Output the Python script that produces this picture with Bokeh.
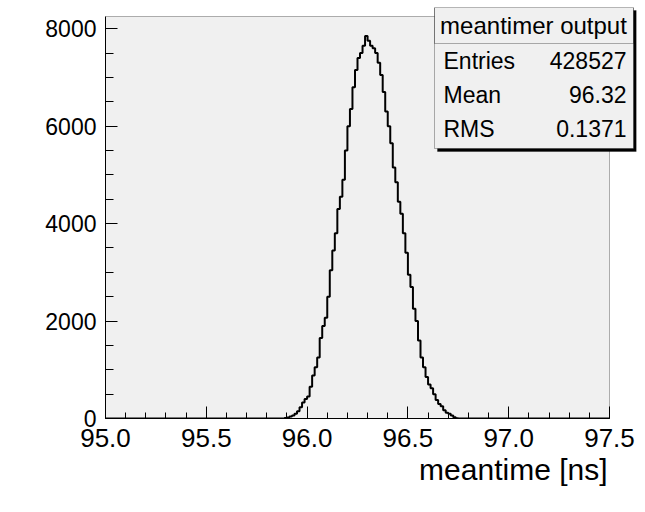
from bokeh.plotting import figure
from bokeh.models import (Range1d, SingleIntervalTicker, Label, BoxAnnotation,
                          NumeralTickFormatter, Title)
from bokeh.embed import file_html
from bokeh.resources import INLINE

# ---- data ----
x_min, x_max = 95.0, 97.5
y_min, y_max = 0, 8250
bin_lo = 95.8875
bin_width = 0.0125
counts = [10, 20, 40, 60, 100, 150, 230, 330, 400, 450,
          650, 880, 1050, 1250, 1650, 1900, 2070, 2500, 3040, 3450,
          3800, 4300, 4550, 4900, 5500, 6000, 6350, 6800, 7150, 7400,
          7500, 7650, 7850, 7750, 7650, 7600, 7500, 7300, 7050, 6700,
          6300, 6000, 5650, 5150, 4850, 4450, 4200, 3800, 3400, 2950,
          2700, 2250, 2000, 1600, 1250, 1050, 850, 700, 620, 500,
          380, 300, 250, 170, 120, 100, 60, 25, 5]
stats_title = "meantimer output"
stats_names = ["Entries", "Mean", "RMS"]
stats_values = ["428527", "96.32", "0.1371"]
x_label = "meantime [ns]"

FONT = "Liberation Sans"
GREY = "#f0f0f0"

# pixel geometry of the histogram frame (page pixels)
FL, FR, FT, FB = 105, 609, 16, 418
px_per_x = (FR - FL) / (x_max - x_min)
px_per_y = (FB - FT) / (y_max - y_min)
def dx(px):
    return x_min + (px - FL) / px_per_x
def dy(py):
    return y_min + (FB - py) / px_per_y

# the plotting frame is enlarged so the stats box (outside the histogram frame) can be drawn
PR, PT = 636, 7
p = figure(width=645, height=512, output_backend="svg", toolbar_location=None,
           x_range=Range1d(x_min, dx(PR)), y_range=Range1d(y_min, dy(PT)),
           min_border_left=FL, min_border_right=645 - PR, min_border_top=PT,
           min_border_bottom=512 - FB)
p.background_fill_color = "white"
p.border_fill_color = "white"
p.outline_line_color = None
p.grid.visible = False

# histogram frame (grey area + black outline)
p.add_layout(BoxAnnotation(left=x_min, right=x_max, bottom=y_min, top=y_max,
                           fill_color=GREY, fill_alpha=1, line_color="black",
                           line_width=1, level="underlay"))

for ax, interval, nminor, tin, tmin, bnds in ((p.xaxis[0], 0.5, 5, 12, 6, (x_min, x_max)),
                                              (p.yaxis[0], 2000, 4, 12, 8, (y_min, y_max))):
    ax.ticker = SingleIntervalTicker(interval=interval, num_minor_ticks=nminor)
    ax.bounds = bnds
    ax.major_tick_in = tin
    ax.major_tick_out = 0
    ax.minor_tick_in = tmin
    ax.minor_tick_out = 0
    ax.major_tick_line_color = "black"
    ax.minor_tick_line_color = "black"
    ax.axis_line_color = "black"
    ax.major_label_text_font = FONT
    ax.major_label_text_color = "black"
p.xaxis[0].formatter = NumeralTickFormatter(format="0.0")
p.yaxis[0].formatter = NumeralTickFormatter(format="0")
p.xaxis[0].major_label_text_font_size = "26px"
p.yaxis[0].major_label_text_font_size = "23px"
p.xaxis[0].major_label_standoff = 10
p.yaxis[0].major_label_standoff = 9

# histogram outline
edges = [bin_lo + i * bin_width for i in range(len(counts) + 1)]
xs = [x_min, edges[0]]
ys = [0, 0]
for i, c in enumerate(counts):
    xs += [edges[i], edges[i + 1]]
    ys += [c, c]
xs += [edges[-1], x_max]
ys += [0, 0]
p.line(xs, ys, line_color="black", line_width=2)

# stats box
p.add_layout(BoxAnnotation(left=dx(437), right=dx(636), top=dy(10), bottom=dy(151),
                           fill_color="black", fill_alpha=1, line_color="black"))
p.add_layout(BoxAnnotation(left=dx(434), right=dx(633), top=dy(7), bottom=dy(148),
                           fill_color=GREY, fill_alpha=1, line_color="black", line_width=1))
p.add_layout(BoxAnnotation(left=dx(434), right=dx(633), top=dy(7), bottom=dy(43),
                           fill_alpha=0, line_color="black", line_width=1))

SF = "23px"
p.add_layout(Label(x=dx(533), y=dy(25), text=stats_title, text_font=FONT, text_font_size="24px",
                   text_align="center", text_baseline="middle", text_color="black"))
for i, (nm, val) in enumerate(zip(stats_names, stats_values)):
    yy = dy(60 + 34 * i)
    p.add_layout(Label(x=dx(443), y=yy, text=nm, text_font=FONT, text_font_size=SF,
                       text_align="left", text_baseline="middle", text_color="black"))
    p.add_layout(Label(x=dx(626), y=yy, text=val, text_font=FONT, text_font_size=SF,
                       text_align="right", text_baseline="middle", text_color="black"))

# x axis title, right-aligned under the histogram frame
p.add_layout(Title(text=x_label, align="right", offset=PR - FR + 2, text_font=FONT,
                   text_font_size="30px", text_font_style="normal", text_color="black",
                   standoff=2), "below")

open("out.html", "w").write(file_html(p, INLINE))
